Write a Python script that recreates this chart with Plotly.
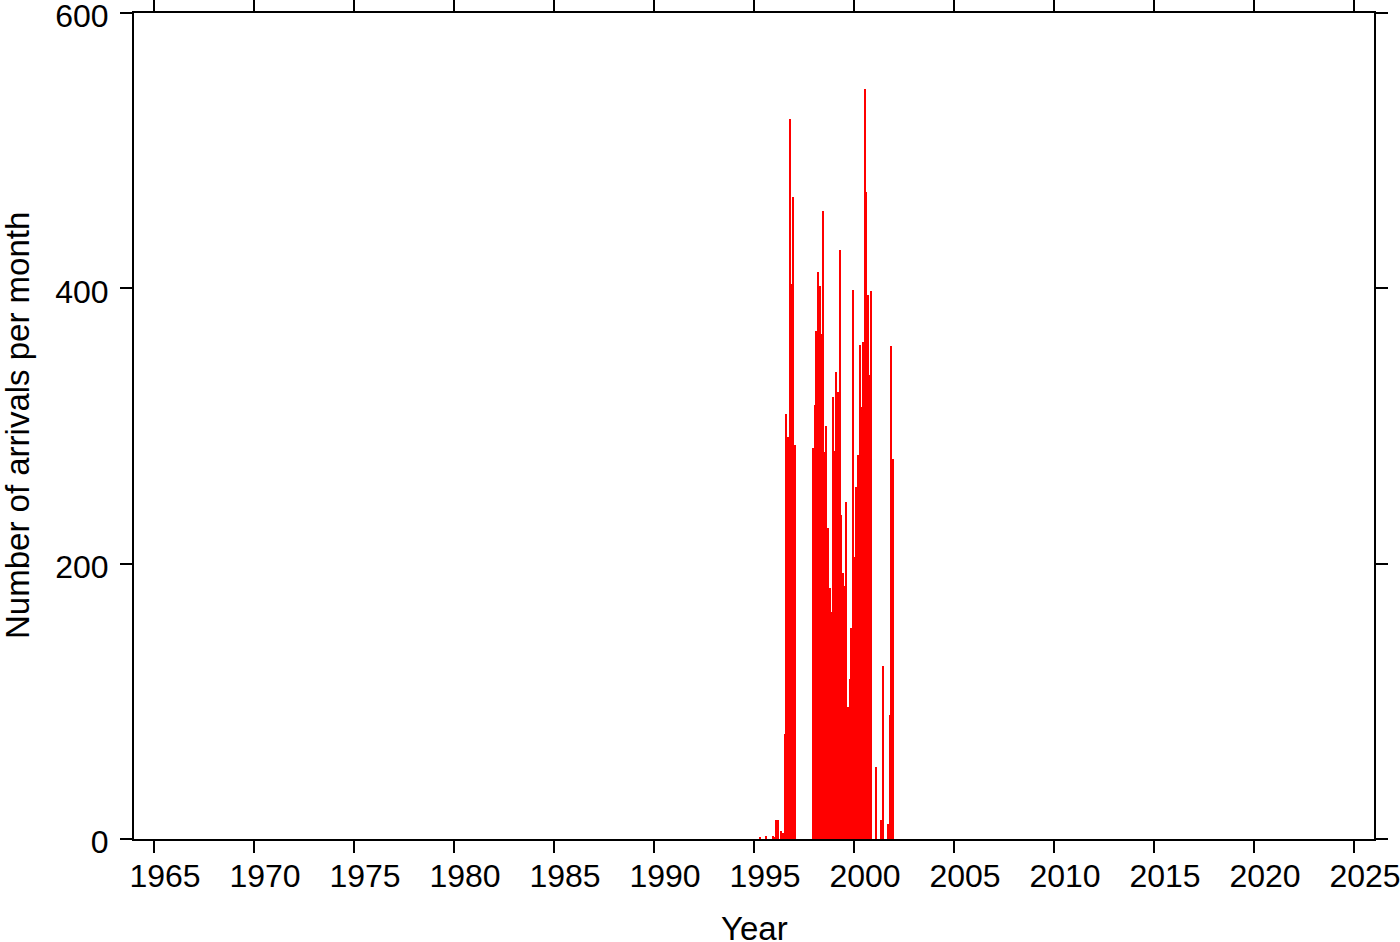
import plotly.graph_objects as go

# Monthly arrival counts (month label "YYYY-MM" -> count)
months = [
    "1995-04", "1995-08", "1995-12",
    "1996-01", "1996-02", "1996-03", "1996-05", "1996-06", "1996-07", "1996-08",
    "1996-09", "1996-10", "1996-11", "1996-12", "1997-01",
    "1997-12",
    "1998-01", "1998-02", "1998-03", "1998-04", "1998-05", "1998-06",
    "1998-07", "1998-08", "1998-09", "1998-10", "1998-11", "1998-12",
    "1999-01", "1999-02", "1999-03", "1999-04", "1999-05", "1999-06",
    "1999-07", "1999-08", "1999-09", "1999-10", "1999-11", "1999-12",
    "2000-01", "2000-02", "2000-03", "2000-04", "2000-05", "2000-06",
    "2000-07", "2000-08", "2000-09", "2000-10", "2000-11",
    "2001-02", "2001-05", "2001-06", "2001-09", "2001-10", "2001-11", "2001-12",
]
counts = [
    1, 2, 2,
    1, 14, 14, 6, 4, 76, 309,
    292, 523, 403, 466, 286,
    284,
    315, 369, 412, 402, 367, 456,
    281, 300, 226, 182, 165, 321,
    282, 339, 325, 428, 235, 193,
    184, 245, 96, 116, 153, 399,
    205, 256, 279, 359, 314, 361,
    545, 470, 395, 337, 398,
    52, 14, 126, 11, 90, 358, 276,
]

x_tick_values = list(range(1965, 2026, 5))
x_tick_labels = [str(v) for v in x_tick_values]
y_tick_values = [0, 200, 400, 600]
x_title = "Year"
y_title = "Number of arrivals per month"

# decimal year at mid-month
xpos = [int(m[:4]) + (int(m[5:7]) - 0.5) / 12.0 for m in months]

font_family = "Liberation Sans, Arial, Helvetica, sans-serif"
FS = 33
TFS = 32

fig = go.Figure()
fig.add_trace(go.Bar(
    x=xpos, y=counts, width=0.062,
    marker=dict(color="#ff0000", line=dict(width=0)),
    hoverinfo="x+y",
))

fig.update_layout(
    width=1400, height=942,
    margin=dict(l=134, r=26, t=13, b=103),
    paper_bgcolor="white", plot_bgcolor="white",
    showlegend=False,
    bargap=0,
    font=dict(family=font_family, size=FS, color="black"),
)

fig.update_xaxes(
    range=[1964, 2026], automargin=False,
    tickmode="array", tickvals=x_tick_values, ticktext=x_tick_labels,
    showgrid=False, zeroline=False,
    showline=True, linecolor="black", linewidth=2, mirror="allticks",
    ticks="outside", ticklen=12, tickwidth=1.5, tickcolor="black",
    ticklabelshift=11, ticklabelstandoff=-4, ticklabeloverflow="allow",
    tickfont=dict(size=TFS, family=font_family),
)
fig.update_yaxes(
    range=[0, 600], automargin=False,
    tickmode="array", tickvals=y_tick_values,
    showgrid=False, zeroline=False,
    showline=True, linecolor="black", linewidth=2, mirror="allticks",
    ticks="outside", ticklen=12, tickwidth=1.5, tickcolor="black",
    ticklabelstandoff=5, ticklabelshift=3, ticklabeloverflow="allow",
    tickfont=dict(size=TFS, family=font_family),
)

# axis titles
fig.add_annotation(
    text=x_title, xref="paper", yref="paper", x=0.5, y=0,
    xanchor="center", yanchor="middle", yshift=-89, showarrow=False,
    borderpad=0,
    font=dict(size=FS, family=font_family, color="black"),
)
fig.add_annotation(
    text=y_title, xref="paper", yref="paper", x=0, y=0.5,
    xanchor="center", yanchor="middle", xshift=-117, textangle=-90, showarrow=False,
    borderpad=0,
    font=dict(size=FS, family=font_family, color="black"),
)

fig.write_html(
    "out.html",
    config={"displayModeBar": False},
    post_script="document.body.style.margin='0';document.body.style.overflow='hidden';",
)
